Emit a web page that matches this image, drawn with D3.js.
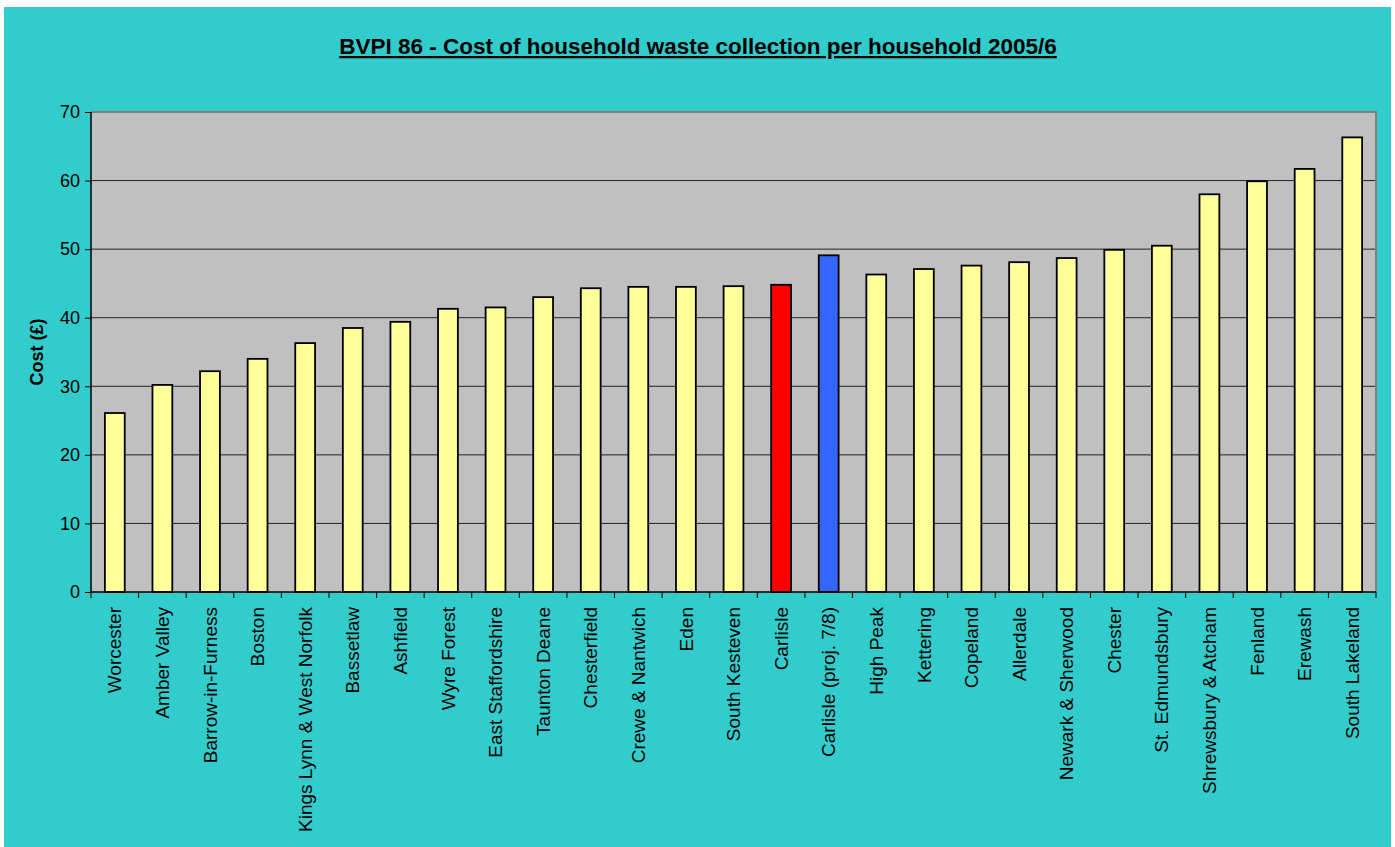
<!DOCTYPE html>
<html>
<head>
<meta charset="utf-8">
<script src="https://cdn.jsdelivr.net/npm/d3@7"></script>
<style>
  body { margin: 0; background: #fff; }
  text { font-family: "Liberation Sans", Arial, sans-serif; fill: #000; }
  .grid line { stroke: #222; stroke-width: 1; }
</style>
</head>
<body>
<svg id="chart" width="1395" height="847"></svg>
<script>
let councils = ["Worcester", "Amber Valley", "Barrow-in-Furness", "Boston", "Kings Lynn & West Norfolk",
  "Bassetlaw", "Ashfield", "Wyre Forest", "East Staffordshire", "Taunton Deane", "Chesterfield",
  "Crewe & Nantwich", "Eden", "South Kesteven", "Carlisle", "Carlisle (proj. 7/8)", "High Peak",
  "Kettering", "Copeland", "Allerdale", "Newark & Sherwood", "Chester", "St. Edmundsbury",
  "Shrewsbury & Atcham", "Fenland", "Erewash", "South Lakeland"];
let costs = [26.1, 30.2, 32.2, 34.0, 36.3, 38.5, 39.4, 41.3, 41.5, 43.0, 44.3,
  44.5, 44.5, 44.6, 44.8, 49.1, 46.3, 47.1, 47.6, 48.1, 48.7, 49.9, 50.5,
  58.0, 59.9, 61.7, 66.3];
let yTicks = [0, 10, 20, 30, 40, 50, 60, 70];

let svg = d3.select("#chart");

// teal chart area with thin white edge
svg.append("rect")
    .attr("x", 4).attr("y", 7)
    .attr("width", 1387).attr("height", 840)
    .attr("fill", "#33CCCC");

let margin = {top: 112, left: 91, right: 1395 - 1376, bottom: 847 - 592}
  , width = 1395 - margin.left - margin.right
  , height = 847 - margin.top - margin.bottom;

let g = svg.append("g")
    .attr("transform", "translate(" + margin.left + "," + margin.top + ")");

let xScale = d3.scaleBand()
    .domain(councils)
    .range([0, width])
    .paddingInner(1.4 / 2.4)
    .paddingOuter(0.7 / 2.4);
let xBand = d3.scaleBand().domain(councils).range([0, width]); // for tick placement
let yScale = d3.scaleLinear()
    .domain([0, 70])
    .range([height, 0]);

// plot background
g.append("rect")
    .attr("width", width).attr("height", height)
    .attr("fill", "#C0C0C0");

// gridlines
g.append("g")
    .attr("class", "grid")
  .selectAll("line")
    .data(yTicks.filter(d => d > 0 && d < 70))
  .enter().append("line")
    .attr("x1", 0).attr("x2", width)
    .attr("y1", d => yScale(d)).attr("y2", d => yScale(d));

// plot border (top/right gray)
g.append("path")
    .attr("d", "M0,0H" + width + "V" + height)
    .attr("fill", "none")
    .attr("stroke", "#808080")
    .attr("stroke-width", 2);

// bars
g.selectAll(".bar")
    .data(councils)
  .enter().append("rect")
    .attr("class", "bar")
    .attr("x", d => xScale(d))
    .attr("y", (d, i) => yScale(costs[i]))
    .attr("width", xScale.bandwidth())
    .attr("height", (d, i) => height - yScale(costs[i]))
    .attr("fill", d => d === "Carlisle" ? "#FF0000" : d === "Carlisle (proj. 7/8)" ? "#3366FF" : "#FFFF99")
    .attr("stroke", "#000")
    .attr("stroke-width", 1.8);

// y axis
let yAxis = g.append("g")
    .call(d3.axisLeft(yScale).tickValues(yTicks).tickSize(6).tickPadding(5).tickFormat(d3.format("d")));
yAxis.select(".domain").attr("stroke", "#000").attr("stroke-width", 1.5).attr("d", "M0,0V" + height);
yAxis.selectAll(".tick line").attr("stroke", "#000");
yAxis.selectAll("text").style("font-size", "18px");

// x axis: ticks between categories
let xAxis = g.append("g")
    .attr("transform", "translate(0," + height + ")");
xAxis.append("line")
    .attr("x1", 0).attr("x2", width)
    .attr("stroke", "#000").attr("stroke-width", 1.5);
xAxis.selectAll(".xtick")
    .data(councils.concat(["end"]))
  .enter().append("line")
    .attr("x1", (d, i) => i < councils.length ? xBand(d) : width)
    .attr("x2", (d, i) => i < councils.length ? xBand(d) : width)
    .attr("y1", 0).attr("y2", 6)
    .attr("stroke", "#000");
xAxis.selectAll(".xlabel")
    .data(councils)
  .enter().append("text")
    .attr("transform", d => "translate(" + (xScale(d) + xScale.bandwidth() / 2) + ",15) rotate(-90)")
    .attr("dy", "0.35em")
    .style("text-anchor", "end")
    .style("font-size", "19px")
    .text(d => d);

// y axis title
svg.append("text")
    .attr("transform", "translate(37," + (margin.top + height / 2) + ") rotate(-90)")
    .attr("dy", "0.35em")
    .style("text-anchor", "middle")
    .style("font-size", "18px")
    .style("font-weight", "bold")
    .text("Cost (£)");

// title
svg.append("text")
    .attr("x", 698).attr("y", 54)
    .style("text-anchor", "middle")
    .style("font-size", "22.5px")
    .style("font-weight", "bold")
    .style("text-decoration", "underline")
    .text("BVPI 86 - Cost of household waste collection per household 2005/6");
</script>
</body>
</html>
